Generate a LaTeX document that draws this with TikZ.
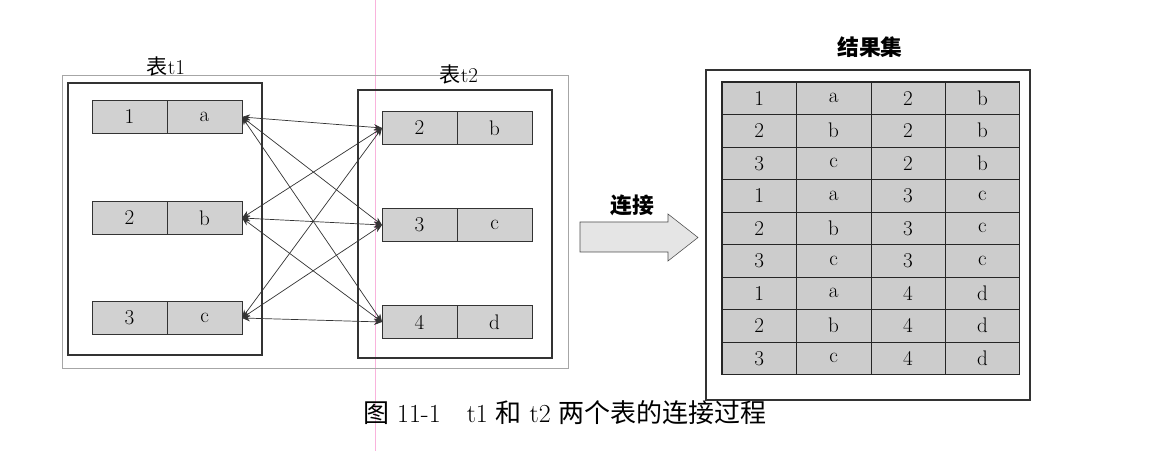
\documentclass[tikz,border=0pt]{standalone}
\usepackage{fontspec}
\newfontfamily\cjk{Noto Sans CJK SC}
\usetikzlibrary{positioning,arrows.meta}
\tikzset{
  cell/.style  ={draw=black!80, fill=black!18, minimum width=1.875cm, minimum height=0.82cm,
                 inner sep=0pt, outer sep=0pt, anchor=west, font=\fontsize{15}{17}\selectfont},
  rcell/.style ={draw=black!85, fill=black!20, minimum width=1.86cm, minimum height=0.8125cm,
                 inner sep=0pt, outer sep=0pt, anchor=west, font=\fontsize{15}{17}\selectfont},
  tframe/.style={draw=black!80, line width=1pt},
  tlabel/.style={font=\cjk\fontsize{15}{17}\selectfont, inner sep=1pt},
  blabel/.style={tlabel, font=\cjk\bfseries\fontsize{15.5}{18}\selectfont},
  link/.style  ={{Stealth[length=2mm,width=1.6mm]}-{Stealth[length=2mm,width=1.6mm]}, draw=black!80, semithin},
  semithin/.style={line width=0.5pt},
  bigarr/.style={draw=black!70, fill=black!10, line join=miter},
}
\begin{document}
\begin{tikzpicture}[x=0.025cm,y=-0.025cm]
  \useasboundingbox (0,0) rectangle (1164,451);
  % page marks of the scan
  \draw[magenta!30, thin] (375,0) -- (375,451);
  \draw[black!35, thin] (62,75) rectangle (568,368);

  % table t1
  \draw[tframe] (68,83) rectangle (262,355);
  \node[tlabel] (t1lbl) at (166,66) {表\rmfamily t1};
  \node[cell] (t1a1) at (92,117) {1};
  \node[cell, right=0mm of t1a1] (t1b1) {a};
  \node[cell] (t1a2) at (92,218) {2};
  \node[cell, right=0mm of t1a2] (t1b2) {b};
  \node[cell] (t1a3) at (92,318) {3};
  \node[cell, right=0mm of t1a3] (t1b3) {c};

  % table t2
  \draw[tframe] (358,90) rectangle (552,358);
  \node[tlabel] (t2lbl) at (459,74) {表\rmfamily t2};
  \node[cell] (t2a1) at (382,128) {2};
  \node[cell, right=0mm of t2a1] (t2b1) {b};
  \node[cell] (t2a2) at (382,225) {3};
  \node[cell, right=0mm of t2a2] (t2b2) {c};
  \node[cell] (t2a3) at (382,322) {4};
  \node[cell, right=0mm of t2a3] (t2b3) {d};

  % every row of t1 with every row of t2
  \foreach \i in {1,2,3}
    \foreach \j in {1,2,3}
      \draw[link] (t1b\i.east) -- (t2a\j.west);

  % join arrow
  \draw[bigarr] (580,222) -- (668,222) -- (668,214) -- (698,237.5)
                -- (668,261) -- (668,252) -- (580,252) -- cycle;
  \node[blabel] (joinlbl) at (632,205) {连接};

  % result set
  \draw[tframe] (706,70) rectangle (1030,400);
  \node[blabel] (reslbl) at (870,47) {结果集};
  \foreach [count=\i] \p/\q/\r/\s in {1/a/2/b,2/b/2/b,3/c/2/b,1/a/3/c,2/b/3/c,3/c/3/c,1/a/4/d,2/b/4/d,3/c/4/d}{
    \node[rcell] (r\i c1) at (722,{82+(\i-0.5)*32.5}) {\p};
    \node[rcell, right=0mm of r\i c1] (r\i c2) {\q};
    \node[rcell, right=0mm of r\i c2] (r\i c3) {\r};
    \node[rcell, right=0mm of r\i c3] (r\i c4) {\s};
  }
  \draw[line width=1.1pt, black!85] (r1c1.north west) rectangle (r9c4.south east);

  % caption
  \node[font=\fontsize{18.5}{21}\selectfont] (caption) at (565,413)
    {{\cjk 图} 11-1\quad t1 {\cjk 和} t2 {\cjk 两个表的连接过程}};
\end{tikzpicture}
\end{document}
